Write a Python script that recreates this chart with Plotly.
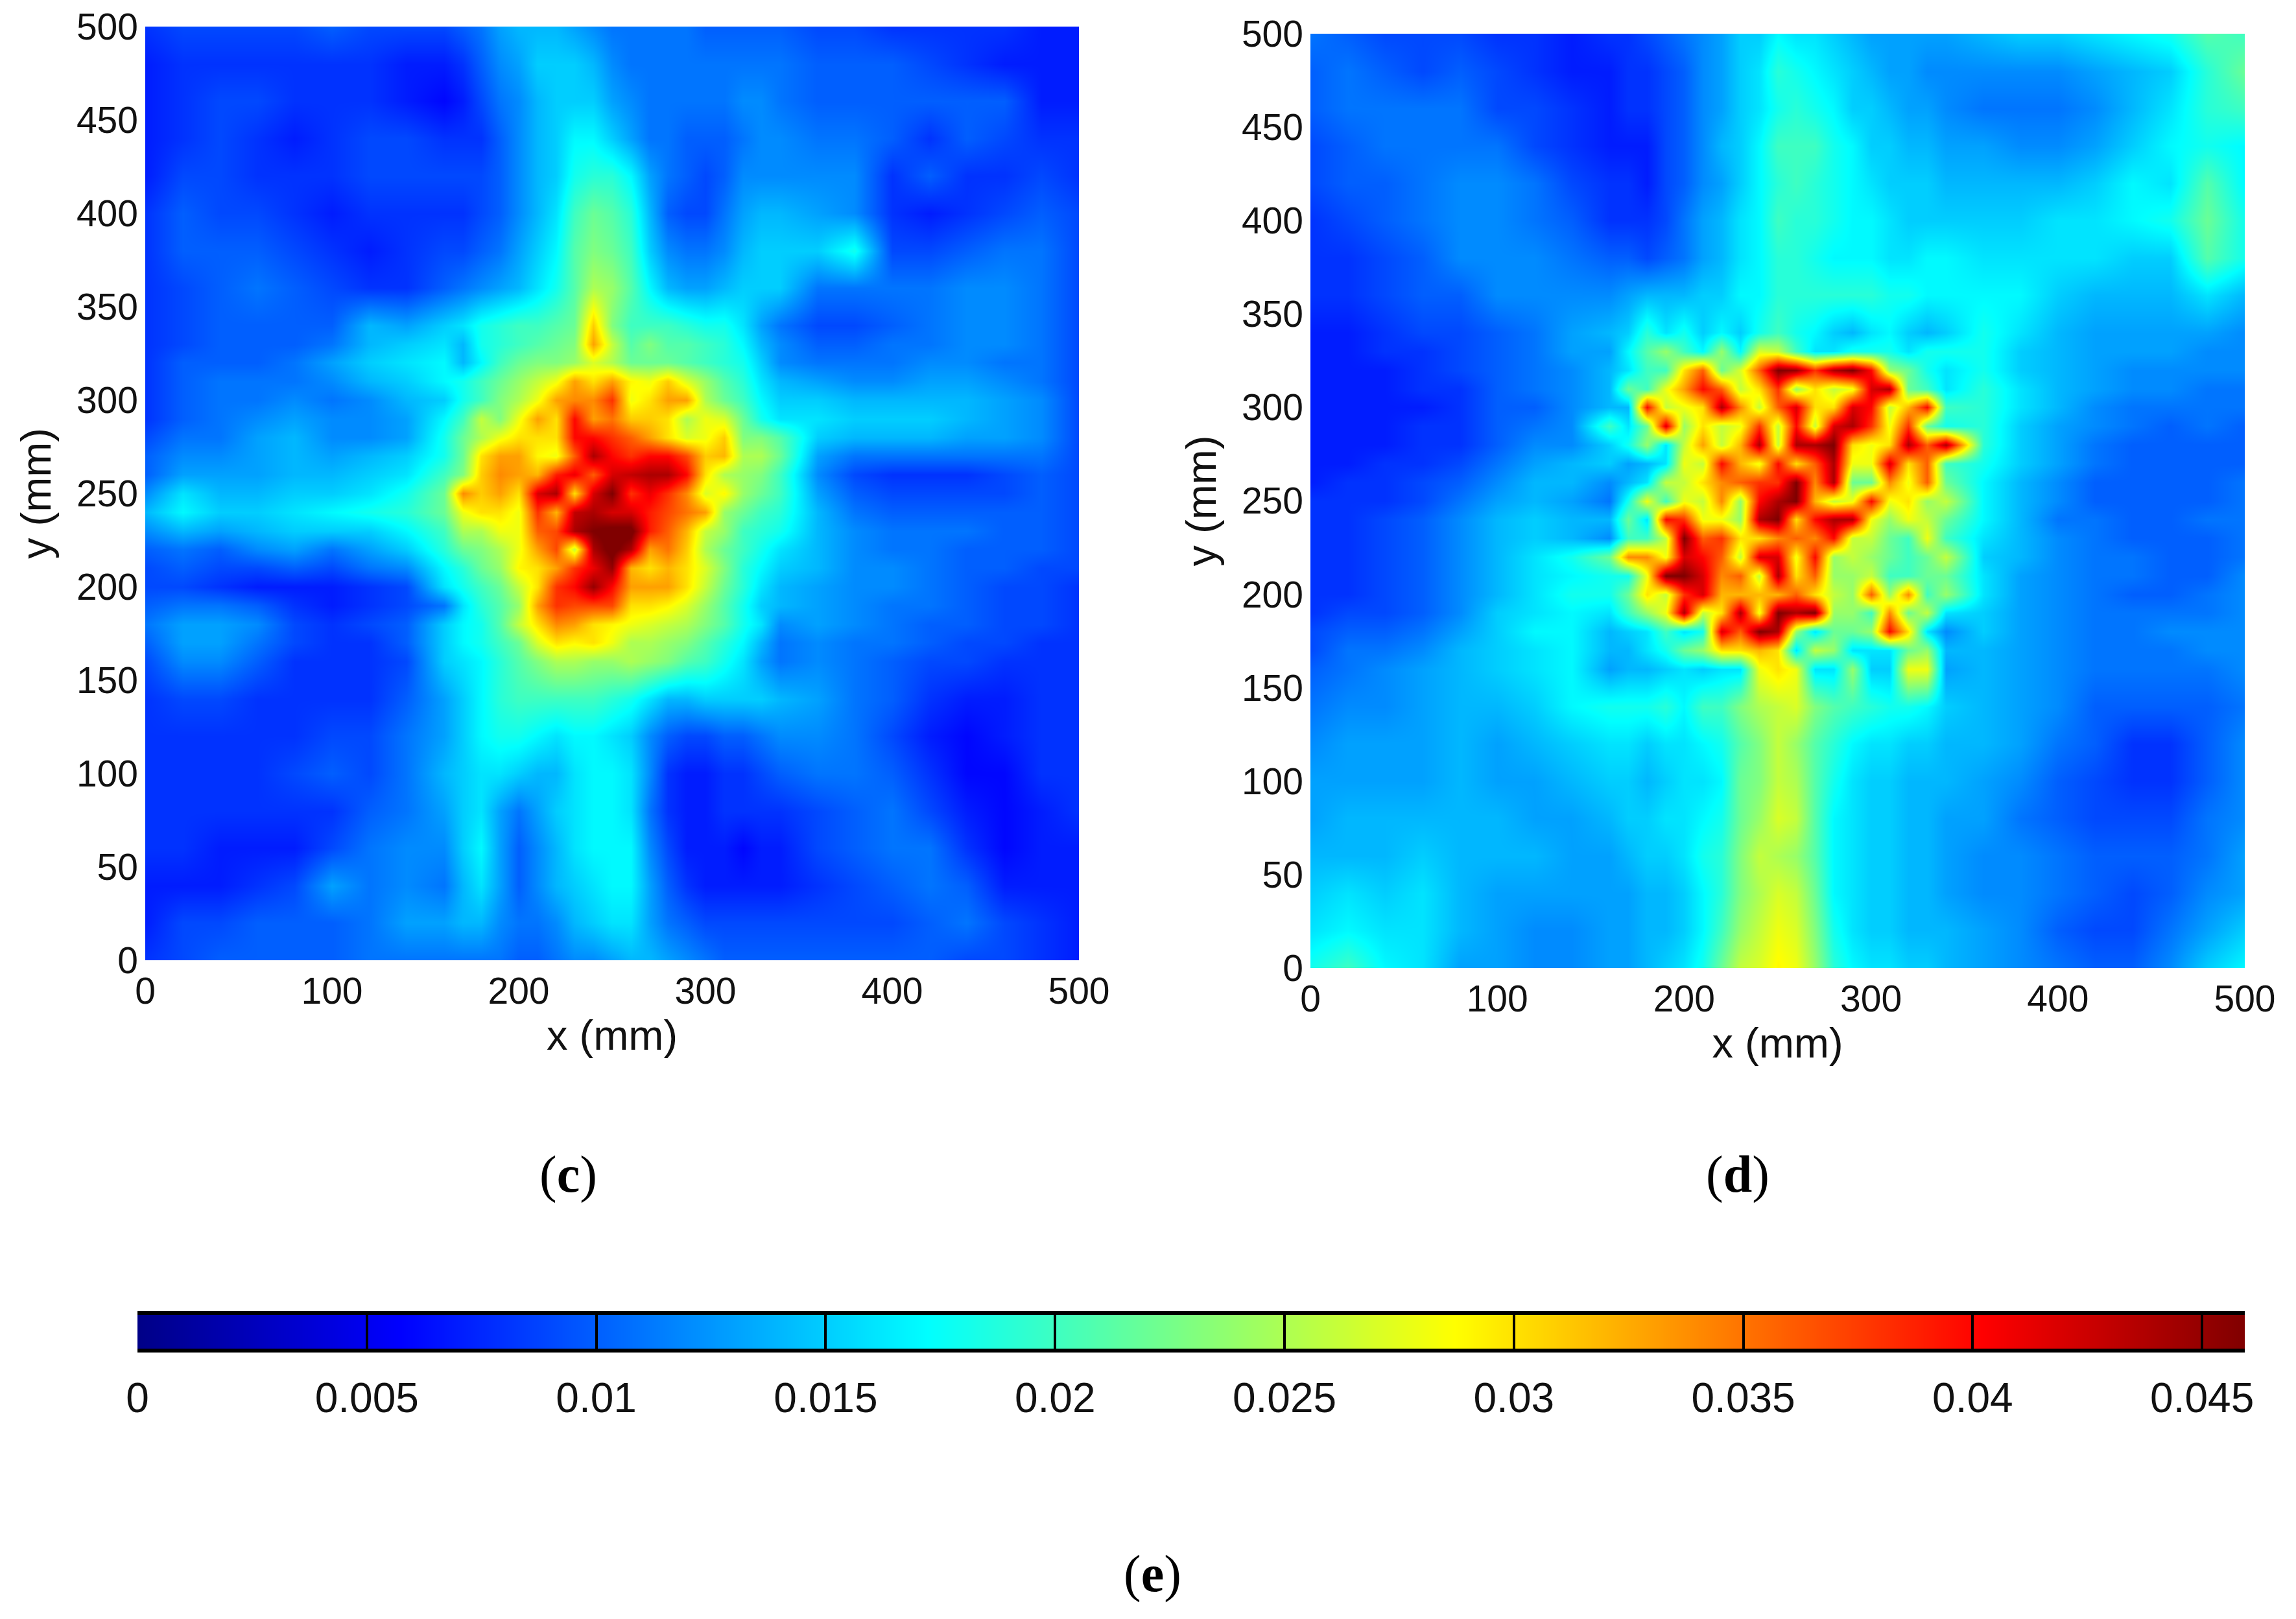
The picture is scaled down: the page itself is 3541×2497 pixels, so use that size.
import plotly.graph_objects as go

W, H = 3541, 2497
# sampling positions of the value tables below: 20 mm apart at the edges, 10 mm apart in the centre
grid_x_mm = [0,20,40,60,80,100,120,140,160,170,180,190,200,210,220,230,240,250,260,270,280,290,300,310,320,330,340,360,380,400,420,440,460,480,500]
grid_y_mm = grid_x_mm[::-1]

# values, in units of 0.001; rows run from y=500 down to y=0
panel_c = [
 [8,9,9,9,9,10,9,9, 9,10,11,13,14,14,14,13,12,11,11,11,11,11,10,10,10,10,10, 9,9,8,8,8,8,7,7],
 [7,8,8,8,8,8,8,7, 7,8,10,12,13,15,15,15,14,12,11,11,11,11,11,11,11,11,11, 10,10,10,9,8,7,7,7],
 [7,8,9,9,8,8,8,7, 6,7,9,11,12,14,15,15,15,13,12,11,11,11,11,11,12,12,11, 10,10,10,10,10,10,7,7],
 [7,8,9,8,7,8,9,9, 8,8,8,10,12,14,15,17,17,15,13,11,11,10,10,10,11,12,12, 11,11,10,8,10,9,8,8],
 [7,9,9,8,8,8,9,9, 9,9,9,10,12,14,15,18,19,19,17,13,11,10,9,10,12,12,12, 12,12,8,10,8,8,9,8],
 [8,10,9,9,8,7,8,8, 8,8,9,10,12,14,16,20,22,21,19,14,10,9,9,11,13,14,14, 13,12,8,7,8,9,10,9],
 [8,10,10,10,9,8,7,8, 9,9,10,11,13,15,17,21,23,22,20,15,12,11,11,12,14,15,15, 15,18,9,9,10,11,11,9],
 [8,9,10,11,10,9,8,8, 10,11,12,13,14,16,18,21,25,24,21,17,14,13,13,14,15,15,15, 11,11,11,11,12,12,11,9],
 [8,9,10,10,10,10,14,13, 15,16,18,19,20,20,21,22,31,23,20,20,20,19,18,18,16,13,11, 9,9,10,11,12,12,11,9],
 [8,9,10,10,10,11,14,15, 16,14,18,19,20,21,22,23,33,26,21,23,21,21,20,19,17,14,12, 10,10,11,11,12,12,11,9],
 [8,10,10,10,11,13,15,16, 17,14,17,20,22,23,23,24,27,25,22,22,22,21,20,19,18,15,12, 11,11,11,12,12,11,11,9],
 [8,10,11,11,11,12,14,15, 17,18,20,22,24,26,28,33,30,33,29,28,31,27,24,21,19,16,14, 13,12,12,13,13,12,11,9],
 [8,10,11,11,12,11,12,14, 15,18,20,23,25,28,33,34,34,38,28,30,33,33,25,22,20,17,15, 15,14,14,14,14,13,12,9],
 [8,10,11,12,13,12,12,13, 17,20,26,23,28,33,30,40,33,35,31,31,30,25,28,27,22,18,16, 16,15,15,15,14,13,12,9],
 [9,11,11,13,14,12,12,13, 18,22,25,28,30,30,30,40,40,38,36,33,30,27,28,31,23,23,21, 15,14,14,14,13,13,12,9],
 [10,12,12,13,14,13,14,15, 18,22,30,33,33,29,28,36,44,40,38,40,40,37,31,32,25,25,22, 13,11,11,11,11,11,11,9],
 [10,13,13,13,14,14,15,16, 20,23,31,34,33,32,39,41,36,42,43,44,44,40,30,25,24,23,20, 12,9,8,8,8,9,10,9],
 [12,16,14,14,15,15,16,18, 22,34,31,33,30,42,44,30,42,46,38,41,38,34,27,29,24,22,20, 13,10,9,9,9,9,10,9],
 [14,17,15,15,16,17,18,19, 22,28,30,30,28,38,32,43,44,42,42,39,37,35,33,24,22,20,19, 14,11,10,10,10,10,10,9],
 [12,14,13,14,15,15,15,17, 20,25,25,28,28,36,37,44,46,47,47,39,36,32,26,24,20,19,18, 14,12,11,11,11,10,10,9],
 [10,11,10,12,13,11,13,15, 19,22,23,25,28,33,37,26,44,47,44,33,35,31,25,22,20,18,16, 14,12,11,11,10,10,10,9],
 [9,10,9,9,10,9,11,12, 17,19,22,24,29,30,33,38,41,45,32,30,32,30,27,23,19,17,15, 14,12,12,11,10,10,9,9],
 [9,9,8,7,7,7,8,9, 16,18,20,22,26,30,38,40,45,40,33,33,33,30,26,22,19,16,14, 13,12,12,11,10,9,9,8],
 [10,11,11,10,8,7,8,9, 11,16,19,21,24,33,38,37,37,37,30,30,29,27,24,21,18,15,14, 13,12,11,11,10,9,9,8],
 [11,13,13,12,9,8,9,10, 15,17,18,21,26,30,34,33,30,29,28,27,26,25,23,21,18,16,12, 13,12,11,10,10,9,9,8],
 [10,13,13,11,9,8,8,10, 15,17,18,20,22,27,30,29,30,28,25,25,24,23,21,19,17,14,11, 12,11,11,10,9,9,8,8],
 [9,12,12,10,8,8,8,9, 15,16,17,19,21,23,25,25,24,24,25,24,23,21,20,18,16,13,11, 12,11,10,9,9,8,8,8],
 [8,9,9,8,8,8,8,10, 13,15,17,19,20,20,20,20,20,19,18,16,14,14,15,15,15,15,14, 13,11,10,8,7,7,8,8],
 [8,8,8,8,8,9,9,11, 13,15,17,18,18,17,16,17,17,16,15,12,10,9,9,10,10,11,12, 12,11,9,7,6,7,8,8],
 [8,8,8,8,9,10,9,11, 14,15,16,16,15,14,14,16,17,17,16,12,8,7,7,8,8,9,10, 11,11,10,8,6,6,8,8],
 [8,8,8,8,8,8,10,11, 13,15,16,13,11,13,15,16,17,17,16,11,8,7,7,8,8,8,8, 9,10,11,9,7,6,7,8],
 [8,8,7,7,7,9,11,12, 12,15,17,13,10,12,14,16,17,17,17,12,9,7,7,7,6,7,7, 9,10,11,11,8,6,7,7],
 [7,7,7,8,9,13,11,12, 11,14,16,13,10,12,14,15,16,17,17,13,10,8,7,7,7,7,7, 8,9,10,11,10,7,7,7],
 [7,9,9,10,10,10,11,13, 13,14,14,12,11,11,12,14,15,16,16,13,11,10,9,9,9,9,9, 9,9,9,10,11,9,8,7],
 [8,9,10,10,10,10,11,11, 11,11,11,11,10,10,11,12,12,13,14,14,13,12,11,10,10,10,10, 10,10,10,10,9,9,8,7],
]

# values, same units and order
panel_d = [
 [11,10,9,9,9,8,8,7, 8,8,9,10,11,12,13,15,15,17,16,16,15,14,13,13,13,13,13, 14,15,15,16,17,18,21,20],
 [10,11,10,9,10,9,8,7, 7,8,8,9,10,12,13,15,16,19,18,17,16,15,14,13,13,12,12, 12,12,12,13,14,15,19,22],
 [10,11,11,11,11,9,9,8, 7,8,8,9,10,12,13,15,16,18,19,18,17,15,15,14,13,13,12, 11,11,11,12,14,16,19,20],
 [9,10,11,11,11,11,9,8, 7,7,7,9,10,12,14,15,17,20,20,20,18,17,15,15,14,14,13, 13,12,12,13,15,17,18,17],
 [9,10,10,11,12,12,11,9, 8,8,7,9,10,12,13,15,17,19,20,19,18,17,16,15,15,15,14, 14,14,14,15,17,16,21,17],
 [8,9,10,11,12,12,11,10, 8,8,8,9,11,13,14,16,17,20,19,19,18,17,17,16,15,15,15, 15,15,16,16,17,18,22,18],
 [8,8,9,10,12,12,12,11, 10,10,9,10,11,13,14,16,17,19,19,18,17,17,17,16,16,17,17, 16,16,16,16,15,15,21,18],
 [8,8,9,10,10,12,12,12, 12,13,14,14,14,15,15,17,17,19,19,19,19,19,19,18,18,17,17, 17,17,15,14,14,14,16,14],
 [7,7,8,9,9,10,11,13, 14,15,19,16,18,15,17,15,18,20,18,17,15,14,16,17,15,14,15, 18,16,14,13,13,13,13,12],
 [7,7,8,8,9,10,11,13, 13,17,21,24,20,17,24,17,27,26,20,16,16,18,18,18,16,18,18, 18,15,14,13,13,13,12,12],
 [7,7,7,8,9,10,11,12, 14,16,20,20,30,36,22,27,36,46,45,38,44,46,40,24,22,18,16, 18,15,14,13,12,12,12,12],
 [7,7,7,8,8,10,11,12, 14,22,20,28,33,40,36,26,30,38,24,30,26,28,42,44,22,20,16, 19,16,14,13,12,12,11,11],
 [7,7,7,7,8,10,10,12, 14,14,40,26,28,30,44,34,26,36,42,30,30,42,40,26,32,40,20, 19,16,14,12,11,11,11,11],
 [7,7,7,8,8,10,11,12, 20,16,22,42,24,30,26,28,38,26,40,26,42,44,38,28,38,22,18, 19,15,13,12,11,10,11,10],
 [7,7,7,8,8,10,12,12, 15,18,24,16,26,33,26,32,44,26,44,44,46,30,28,30,44,36,44, 19,15,13,11,10,10,10,10],
 [7,7,8,8,9,11,13,14, 15,13,14,16,28,26,40,32,28,40,30,36,44,28,28,42,30,36,20, 18,15,13,11,10,10,10,10],
 [7,8,8,9,10,12,14,14, 12,14,16,26,26,30,34,36,38,38,46,34,44,22,22,34,28,36,22, 17,14,12,10,10,10,10,11],
 [8,8,8,9,11,13,14,13, 11,18,28,20,28,26,34,24,40,44,46,32,26,28,40,28,30,24,26, 17,14,12,10,10,10,10,11],
 [8,8,9,10,12,14,15,14, 14,22,16,40,38,28,28,24,44,46,30,40,44,44,28,24,28,26,22, 17,14,11,11,10,10,11,11],
 [8,8,9,10,12,14,15,14, 12,20,20,26,46,36,38,30,30,34,36,34,40,26,26,22,20,28,20, 16,14,12,11,10,10,10,11],
 [8,8,9,10,12,14,16,18, 22,34,34,28,42,40,36,26,42,42,28,40,24,26,24,22,20,22,26, 15,14,12,11,11,10,10,11],
 [8,8,9,10,12,14,16,17, 18,18,28,46,46,42,34,36,26,44,30,36,24,24,26,20,20,22,22, 16,13,12,11,11,10,10,12],
 [8,8,9,10,12,14,16,18, 18,22,30,26,38,42,32,32,32,32,36,30,26,24,36,24,34,20,24, 16,13,12,11,10,10,11,12],
 [8,9,9,10,12,15,16,17, 16,20,24,28,44,26,30,44,28,46,44,46,24,24,20,34,22,26,16, 15,13,12,11,11,11,11,12],
 [9,10,10,11,13,15,17,17, 14,15,16,20,16,18,42,36,46,44,24,16,22,22,24,40,30,16,12, 15,13,12,11,11,12,12,12],
 [9,11,11,12,14,15,16,17, 14,14,16,18,22,24,30,30,32,30,16,26,24,16,16,16,22,24,14, 14,13,12,11,11,11,12,12],
 [10,11,12,13,14,15,16,17, 13,14,14,15,16,15,16,16,28,30,28,16,16,24,15,15,28,28,13, 14,13,12,11,11,11,11,12],
 [11,12,12,13,14,14,15,17, 18,18,18,19,17,20,20,23,25,26,27,23,21,20,19,18,18,17,15, 14,13,12,10,10,10,10,11],
 [12,13,13,13,14,13,14,15, 16,16,15,16,16,17,18,21,23,26,24,21,19,17,16,16,15,15,14, 14,13,11,10,8,8,10,12],
 [13,13,13,13,14,13,13,14, 15,15,14,15,16,16,17,22,23,26,25,21,18,16,15,15,14,14,14, 13,12,10,9,8,8,10,12],
 [13,14,14,14,14,14,13,13, 14,15,15,16,16,17,18,22,24,27,26,21,17,16,15,15,14,14,13, 13,11,10,9,9,9,11,12],
 [14,14,14,15,14,14,14,13, 13,14,15,15,16,18,19,23,26,25,24,21,17,16,15,15,14,14,13, 12,12,11,10,10,10,11,13],
 [15,16,15,16,14,13,13,13, 13,13,14,14,15,17,19,23,25,27,26,22,17,16,15,15,14,14,13, 12,12,11,10,9,10,12,13],
 [16,17,16,16,14,13,12,12, 13,13,14,14,15,17,20,24,26,28,27,23,18,16,15,15,14,14,14, 13,12,10,9,9,11,13,15],
 [18,20,17,16,13,13,12,12, 13,13,14,15,16,18,22,26,27,29,28,24,19,17,16,16,15,15,14, 13,12,11,10,10,12,15,17],
]

for table in (panel_c, panel_d):
    assert len(table) == 35 and all(len(r) == 35 for r in table)

axis_ticks = [0, 100, 200, 300, 400, 500]
y_ticks = [0, 50, 100, 150, 200, 250, 300, 350, 400, 450, 500]
bar_ticks = [0, 0.005, 0.01, 0.015, 0.02, 0.025, 0.03, 0.035, 0.04, 0.045]
bar_tick_text = ["0", "0.005", "0.01", "0.015", "0.02", "0.025", "0.03", "0.035", "0.04", "0.045"]
Z_MAX = 0.04593
bar_samples = [Z_MAX * i / 400 for i in range(401)]

jet = [[0, "rgb(0,0,135)"], [0.125, "rgb(0,0,255)"], [0.375, "rgb(0,255,255)"],
       [0.625, "rgb(255,255,0)"], [0.875, "rgb(255,0,0)"], [1, "rgb(128,0,0)"]]

SANS = "Liberation Sans"
SERIF = "Liberation Serif"
INK = "#111111"

fig = go.Figure()

def hm(z, xa, ya):
    fig.add_trace(go.Heatmap(x=grid_x_mm, y=grid_y_mm, z=[[v / 1000 for v in row] for row in z],
                             zmin=0, zmax=Z_MAX, colorscale=jet, zsmooth="best",
                             showscale=False, xaxis=xa, yaxis=ya, hoverinfo="skip"))

hm(panel_c, "x", "y")
hm(panel_d, "x2", "y2")
fig.add_trace(go.Heatmap(x=bar_samples, y=[0, 1], z=[bar_samples, bar_samples],
                         zmin=0, zmax=Z_MAX, colorscale=jet, zsmooth="best",
                         showscale=False, xaxis="x3", yaxis="y3", hoverinfo="skip"))

def dom(a, b, total, flip=False):
    return [1 - b / total, 1 - a / total] if flip else [a / total, b / total]

def panel_axes(xbox, ybox, anchor_x, anchor_y):
    xa = dict(domain=dom(*xbox, W), range=[0, 500], anchor=anchor_y, tickvals=axis_ticks, automargin=False,
              tickfont=dict(family=SANS, size=57, color=INK), ticks="", showgrid=False, zeroline=False,
              ticklabelstandoff=9,
              title=dict(text="x (mm)", font=dict(family=SANS, size=65, color=INK), standoff=12))
    ya = dict(domain=dom(*ybox, H, True), range=[0, 500], anchor=anchor_x, tickvals=y_ticks, automargin=False,
              tickfont=dict(family=SANS, size=57, color=INK), ticks="", showgrid=False, zeroline=False,
              ticklabelstandoff=10,
              title=dict(text="y (mm)", font=dict(family=SANS, size=65, color=INK), standoff=18))
    return xa, ya

x1, y1 = panel_axes((224, 1664), (41, 1481), "x", "y")
x2, y2 = panel_axes((2021, 3462), (52, 1493), "x2", "y2")

x3 = dict(domain=dom(212, 3462, W), range=[0, Z_MAX], anchor="y3", tickvals=bar_ticks, automargin=False,
          ticktext=bar_tick_text, ticks="inside", ticklen=56, tickwidth=4, tickcolor="black",
          tickfont=dict(family=SANS, size=64, color=INK), ticklabelstandoff=15,
          showline=True, linewidth=6, linecolor="black", mirror=True, showgrid=False, zeroline=False)
y3 = dict(domain=dom(2028, 2080, H, True), range=[0, 1], anchor="x3", showticklabels=False, automargin=False,
          ticks="", showgrid=False, zeroline=False)

fig.update_layout(width=W, height=H, margin=dict(l=0, r=0, t=0, b=0, autoexpand=False), paper_bgcolor="white",
                  plot_bgcolor="white", showlegend=False,
                  xaxis=x1, yaxis=y1, xaxis2=x2, yaxis2=y2, xaxis3=x3, yaxis3=y3)

for text, px, py in [("(<b>c</b>)", 876, 1811), ("(<b>d</b>)", 2680, 1811), ("(<b>e</b>)", 1777, 2427)]:
    fig.add_annotation(text=text, x=px / W, y=1 - py / H, xref="paper", yref="paper",
                       xanchor="center", yanchor="middle", showarrow=False,
                       font=dict(family=SERIF, size=80, color="black"))

fig.write_html("out.html", config={"displayModeBar": False}, post_script="document.body.style.margin='0';")
